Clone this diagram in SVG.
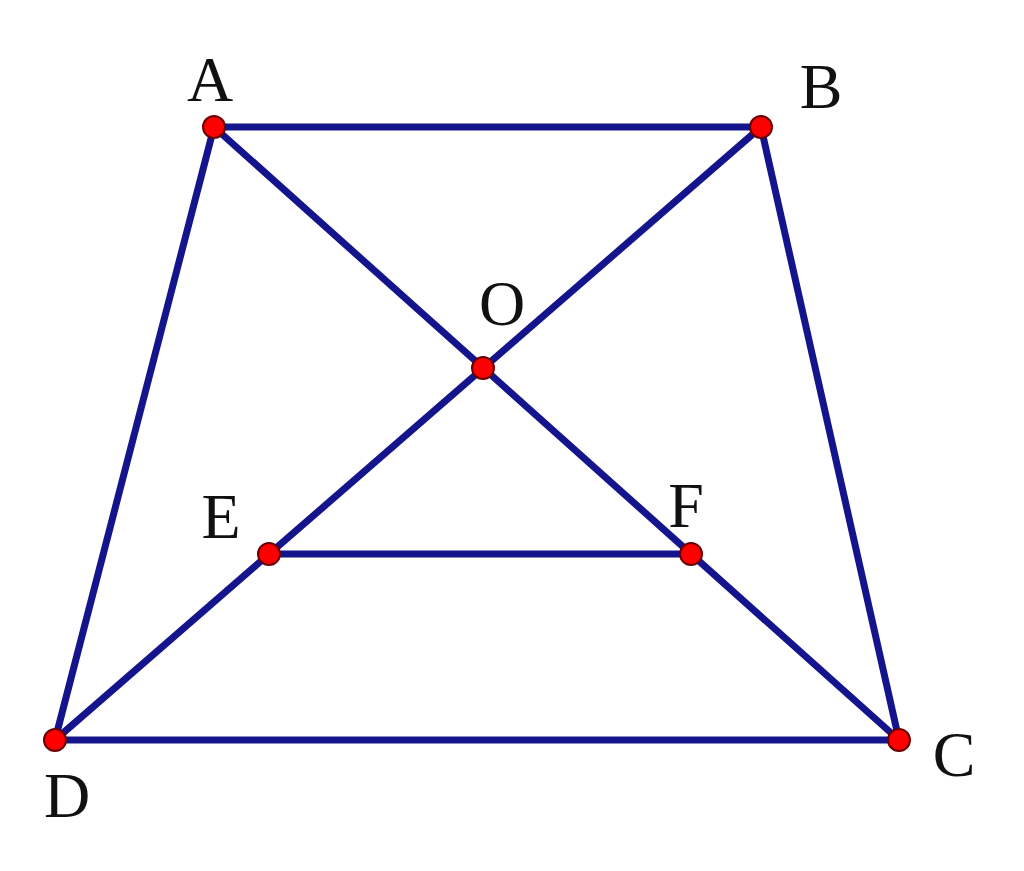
<svg xmlns="http://www.w3.org/2000/svg" width="1024" height="871" viewBox="0 0 1024 871">
<style>
.edge{stroke:#14148c;stroke-width:7;stroke-linecap:round;fill:none}
.pt{fill:#ff0000;stroke:#6a0000;stroke-width:2}
.lbl{font-family:"Liberation Serif","Times New Roman",serif;font-size:64px;fill:#111;text-anchor:middle}
</style>
<rect width="1024" height="871" fill="#ffffff"/>
<g id="connectors">
<line class="edge" x1="214" y1="127" x2="761" y2="127"/>
<line class="edge" x1="761" y1="127" x2="899" y2="740"/>
<line class="edge" x1="899" y1="740" x2="55" y2="740"/>
<line class="edge" x1="55" y1="740" x2="214" y2="127"/>
<line class="edge" x1="214" y1="127" x2="899" y2="740"/>
<line class="edge" x1="761" y1="127" x2="55" y2="740"/>
<line class="edge" x1="269" y1="554" x2="691" y2="554"/>
</g>
<g id="A"><circle class="pt" cx="214" cy="127" r="11"/><text class="lbl" x="210" y="101">A</text></g>
<g id="B"><circle class="pt" cx="761" cy="127" r="11"/><text class="lbl" x="821" y="108">B</text></g>
<g id="C"><circle class="pt" cx="899" cy="740" r="11"/><text class="lbl" x="954" y="776">C</text></g>
<g id="D"><circle class="pt" cx="55" cy="740" r="11"/><text class="lbl" x="67" y="817">D</text></g>
<g id="O"><circle class="pt" cx="483" cy="368" r="11"/><text class="lbl" x="502" y="325">O</text></g>
<g id="E"><circle class="pt" cx="269" cy="554" r="11"/><text class="lbl" x="221" y="538">E</text></g>
<g id="F"><circle class="pt" cx="691" cy="554" r="11"/><text class="lbl" x="686" y="527">F</text></g>
</svg>
